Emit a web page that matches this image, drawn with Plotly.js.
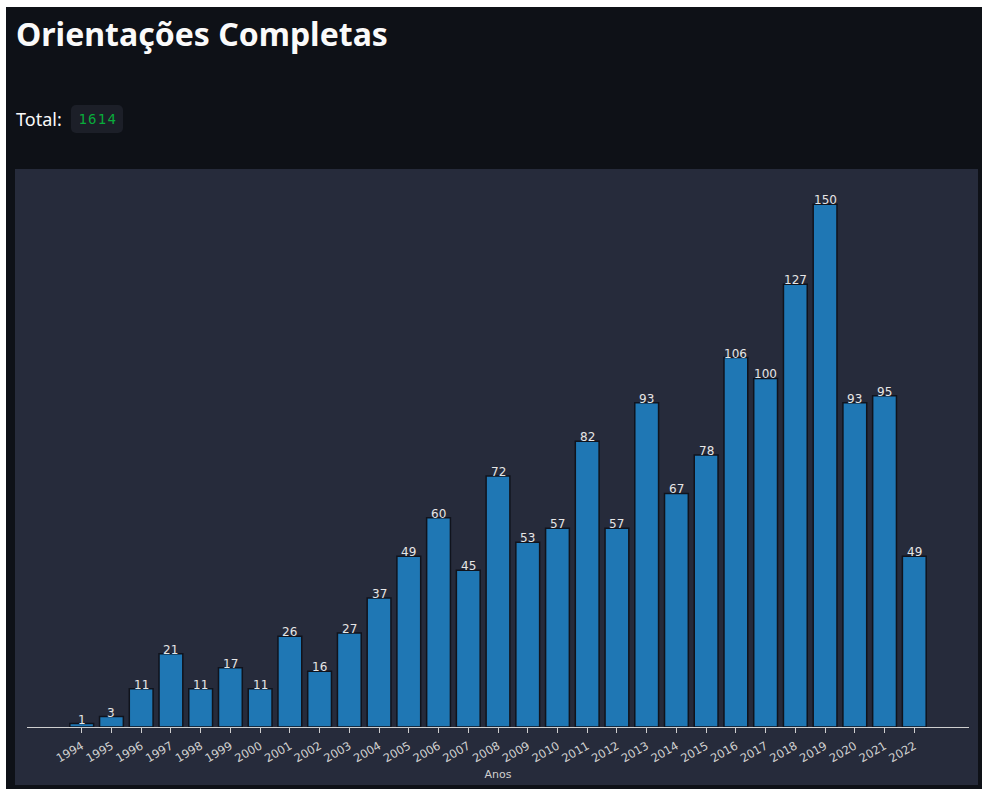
<!DOCTYPE html>
<html>
<head>
<meta charset="utf-8">
<script src="https://cdn.plot.ly/plotly-3.0.1.min.js"></script>
<style>
  html, body { margin:0; padding:0; background:#ffffff; width:982px; height:789px; overflow:hidden; }
  #app { position:absolute; left:6px; top:7px; width:976px; height:782px; background:#0e1117; }
  #title { position:absolute; left:10px; top:8px; margin:0; font-family:"Noto Sans","Open Sans",sans-serif; font-weight:700; font-size:32px; color:#fafafa; white-space:nowrap; line-height:1.2; }
  #total { position:absolute; left:10px; top:98px; font-family:"Noto Sans","Open Sans",sans-serif; font-size:18px; color:#fafafa; line-height:28px; white-space:nowrap; }
  #total code { display:inline-block; margin-left:5px; padding:0 6px 0 7px; background:#1c1f28; color:#09ab3b; border-radius:5px; font-family:"DejaVu Sans Mono","Liberation Mono",monospace; font-size:14px; letter-spacing:1.3px; line-height:28px; height:28px; vertical-align:top; }
  #chart { position:absolute; left:9px; top:162px; width:963px; height:616px; }
</style>
</head>
<body>
<div id="app">
  <h1 id="title">Orientações Completas</h1>
  <div id="total">Total: <code id="totalval"></code></div>
  <div id="chart"></div>
</div>
<script>
const anos = [1994,1995,1996,1997,1998,1999,2000,2001,2002,2003,2004,2005,2006,2007,2008,2009,2010,2011,2012,2013,2014,2015,2016,2017,2018,2019,2020,2021,2022];
const orientacoes = [1,3,11,21,11,17,11,26,16,27,37,49,60,45,72,53,57,82,57,93,67,78,106,100,127,150,93,95,49];
const tituloX = "Anos";

const total = orientacoes.reduce((a,b)=>a+b,0);
document.getElementById('totalval').textContent = String(total);

const trace = {
  type:'bar',
  x: anos,
  y: orientacoes,
  width: 0.8,
  marker:{ color:'#1f77b4', line:{ color:'#10131c', width:1.5 } },
  hoverinfo:'x+y'
};

const rotulos = anos.map((a,i)=>({
  x:a, y:orientacoes[i], xref:'x', yref:'y',
  text:String(orientacoes[i]), showarrow:false,
  xanchor:'center', yanchor:'bottom', yshift:-4, borderpad:0,
  font:{ family:'DejaVu Sans, sans-serif', size:12, color:'#e6e6e6' }
}));

const layout = {
  width:963, height:616,
  paper_bgcolor:'#262b3b',
  plot_bgcolor:'#262b3b',
  margin:{ l:12, r:9, t:9, b:58 },
  showlegend:false,
  bargap:0.2,
  annotations: rotulos,
  xaxis:{
    range:[anos[0]-1.84, anos[anos.length-1]+1.84],
    tickvals: anos,
    ticktext: anos.map(String),
    tickangle:-30,
    ticks:'outside', ticklen:5, tickwidth:1, tickcolor:'#cfcfcf',
    ticklabelstandoff:2,
    showline:true, linecolor:'#cfcfcf', linewidth:1,
    showgrid:false, zeroline:false,
    tickfont:{ family:'DejaVu Sans, sans-serif', size:11.5, color:'#d0d0d0' },
    title:{ text:tituloX, font:{ family:'DejaVu Sans, sans-serif', size:11, color:'#d0d0d0' }, standoff:6 },
    automargin:false,
    fixedrange:true
  },
  yaxis:{
    range:[0,157.5],
    visible:false,
    showgrid:false, zeroline:false,
    fixedrange:true
  }
};

Plotly.newPlot('chart',[trace],layout,{displayModeBar:false});
</script>
</body>
</html>
